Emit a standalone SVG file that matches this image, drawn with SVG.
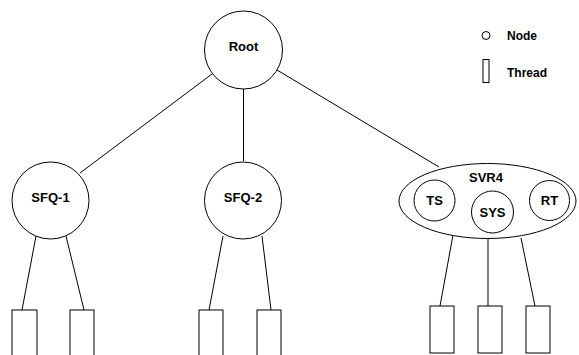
<svg xmlns="http://www.w3.org/2000/svg" width="579" height="355" viewBox="0 0 579 355">
<style>
.n{fill:#fff;stroke:#000;stroke-width:1}
.t{fill:#fff;stroke:#000;stroke-width:1}
.e{stroke:#000;stroke-width:1;fill:none}
text{font-family:"Liberation Sans",Arial,sans-serif;font-weight:bold;fill:#000;text-anchor:middle}
.lbl{font-size:13px}
.lg{font-size:12px;text-anchor:start}
</style>
<rect width="579" height="355" fill="#fff"/>
<g id="connectors">
<line class="e" x1="212" y1="74" x2="80" y2="173"/>
<line class="e" x1="243.5" y1="89" x2="243.5" y2="161"/>
<line class="e" x1="277" y1="70" x2="439" y2="167"/>
<line class="e" x1="36" y1="236" x2="22" y2="310"/>
<line class="e" x1="66" y1="236" x2="84" y2="310"/>
<line class="e" x1="223" y1="236" x2="209" y2="310"/>
<line class="e" x1="262" y1="236" x2="271" y2="310"/>
<line class="e" x1="453" y1="235" x2="440" y2="306"/>
<line class="e" x1="488" y1="239" x2="488" y2="306"/>
<line class="e" x1="521" y1="238" x2="535" y2="306"/>
</g>
<g id="root"><circle class="n" cx="243.5" cy="50" r="39"/><text class="lbl" x="243.5" y="51">Root</text></g>
<g id="sfq1"><circle class="n" cx="50.5" cy="200.5" r="38.5"/><text class="lbl" x="50.5" y="202">SFQ-1</text></g>
<g id="sfq2"><circle class="n" cx="243" cy="200.5" r="38.5"/><text class="lbl" x="243" y="202">SFQ-2</text></g>
<g id="svr4">
<ellipse class="n" cx="487.5" cy="201" rx="88.5" ry="37.5"/>
<text class="lbl" x="486" y="182">SVR4</text>
</g>
<g id="ts"><circle class="n" cx="434.5" cy="200.5" r="20.5"/><text class="lbl" x="434.5" y="205">TS</text></g>
<g id="sys"><circle class="n" cx="492.5" cy="212" r="21"/><text class="lbl" x="492.5" y="217">SYS</text></g>
<g id="rt"><circle class="n" cx="549.5" cy="200.5" r="20"/><text class="lbl" x="549.5" y="205">RT</text></g>
<g id="t1"><rect class="t" x="12" y="310" width="25" height="50"/></g>
<g id="t2"><rect class="t" x="70" y="310" width="24" height="50"/></g>
<g id="t3"><rect class="t" x="199" y="310" width="24" height="50"/></g>
<g id="t4"><rect class="t" x="257" y="310" width="24" height="50"/></g>
<g id="t5"><rect class="t" x="430" y="306" width="24" height="47"/></g>
<g id="t6"><rect class="t" x="478" y="306" width="24" height="47"/></g>
<g id="t7"><rect class="t" x="526" y="306" width="24" height="47"/></g>
<g id="legend">
<circle class="n" cx="486" cy="35.5" r="4"/>
<text class="lg" x="507" y="40">Node</text>
<rect class="t" x="483" y="59.5" width="6" height="23"/>
<text class="lg" x="507" y="77">Thread</text>
</g>
</svg>
